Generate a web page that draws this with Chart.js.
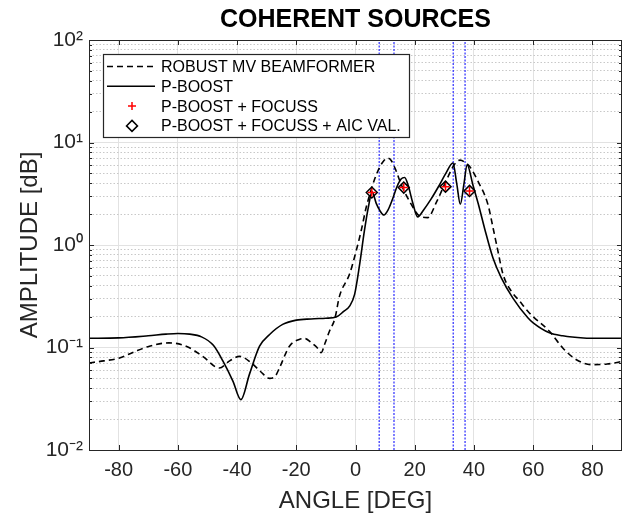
<!DOCTYPE html>
<html>
<head>
<meta charset="utf-8">
<script src="https://cdn.jsdelivr.net/npm/chart.js@4.4.0/dist/chart.umd.min.js"></script>
<style>
  html, body { margin: 0; padding: 0; background: #fff; }
  #wrap { width: 624px; height: 517px; }
</style>
</head>
<body>
<div id="wrap"><canvas id="chart" width="624" height="517"></canvas></div>
<script>
// ---- data ----
const angleRobust = [-90, -85, -79.7, -75, -69.6, -63, -57.2, -51.6, -46, -42.5, -39.2, -35.5, -32, -29, -27, -25.7, -22.3, -19, -17, -15, -13, -11.6, -10.3, -8.8, -7, -5.4, -2, 0.2, 1.9, 3.6, 5.1, 6.6, 8.1, 9.5, 10.7, 12, 13.7, 15.4, 18.2, 21.6, 24.4, 27.3, 30.6, 33.4, 35.3, 37, 38.8, 41.3, 44.7, 46.5, 48, 49.8, 52.6, 55.4, 58.2, 60, 65.5, 70, 74.6, 80, 85, 90];
const ampRobust = [0.0707, 0.074, 0.079, 0.09, 0.103, 0.111, 0.103, 0.082, 0.063, 0.074, 0.082, 0.072, 0.058, 0.05, 0.053, 0.063, 0.103, 0.12, 0.122, 0.112, 0.1, 0.089, 0.11, 0.144, 0.19, 0.317, 0.52, 0.87, 1.37, 2.32, 3.3, 4.5, 5.7, 6.6, 7.04, 6.7, 5.3, 3.92, 2.69, 1.92, 1.85, 2.6, 4.22, 6.1, 6.73, 6.4, 5.7, 4.22, 2.5, 1.45, 0.9, 0.52, 0.355, 0.284, 0.226, 0.2, 0.144, 0.099, 0.076, 0.068, 0.069, 0.073];

const angleBoost = [-90, -80, -70, -64, -60, -56, -52, -48, -44.8, -41.4, -38.7, -35.8, -32.4, -29, -24.6, -20, -15, -10, -6.5, -4, -2, -0.3, 1.4, 3, 4.3, 5.6, 7, 8.3, 9.6, 11, 12.5, 14, 15.4, 16.6, 17.8, 19.3, 21, 23, 25.5, 28, 30.5, 32.9, 34.2, 35.4, 36.6, 37.7, 39.7, 41.5, 43.6, 46.4, 49.2, 53.1, 58.2, 60, 65.5, 70, 77, 83, 90];
const ampBoost = [0.123, 0.124, 0.13, 0.135, 0.137, 0.135, 0.127, 0.105, 0.074, 0.047, 0.031, 0.055, 0.103, 0.134, 0.168, 0.185, 0.19, 0.193, 0.198, 0.225, 0.253, 0.33, 0.647, 1.37, 2.3, 3.3, 2.55, 2.15, 1.96, 2.2, 2.8, 3.7, 4.4, 4.55, 3.8, 2.6, 1.88, 2.2, 2.8, 3.7, 5.0, 6.3, 3.95, 2.5, 3.9, 6.05, 3.8, 2.5, 1.45, 0.75, 0.48, 0.305, 0.195, 0.174, 0.139, 0.13, 0.124, 0.123, 0.123];

const angleFocuss = [5.5, 16.3, 30.4, 38.5];
const ampFocuss = [3.25, 3.63, 3.71, 3.37];

const sourceAngles = [8, 13, 33, 37];

const xTicks = [-80, -60, -40, -20, 0, 20, 40, 60, 80];
const yDecades = [0.01, 0.1, 1, 10, 100];
const yTickLabels = ['10⁻²', '10⁻¹', '10⁰', '10¹', '10²'];

const legendNames = ['ROBUST MV BEAMFORMER', 'P-BOOST', 'P-BOOST + FOCUSS', 'P-BOOST + FOCUSS + AIC VAL.'];

const FONT = '"Liberation Sans", Arial, Helvetica, sans-serif';
const AXIS = '#262626';

const toXY = (xs, ys) => xs.map((x, i) => ({ x: x, y: ys[i] }));
const isDecade = v => yDecades.some(d => Math.abs(d - v) < d * 1e-6);

// minor ticks 1..9 per decade
const yAllTicks = [];
yDecades.forEach((d, i) => {
  if (i === yDecades.length - 1) { yAllTicks.push(d); return; }
  for (let k = 1; k < 10; k++) yAllTicks.push(d * k);
});

const datasets = [
  {
    label: legendNames[3], type: 'scatter', data: toXY(angleFocuss, ampFocuss),
    pointStyle: 'rectRot', pointRadius: 5.5, pointBorderColor: '#000', pointBackgroundColor: 'rgba(0,0,0,0)',
    pointBorderWidth: 1.5, showLine: false, order: 1
  },
  {
    label: legendNames[2], type: 'scatter', data: toXY(angleFocuss, ampFocuss),
    pointStyle: 'cross', pointRadius: 4, pointBorderColor: '#ff0000', pointBorderWidth: 1.5,
    showLine: false, order: 0
  },
  {
    label: legendNames[1], data: toXY(angleBoost, ampBoost), borderColor: '#000', borderWidth: 1.6,
    pointRadius: 0, cubicInterpolationMode: 'monotone', order: 2
  },
  {
    label: legendNames[0], data: toXY(angleRobust, ampRobust), borderColor: '#000', borderWidth: 1.6,
    borderDash: [6, 4], pointRadius: 0, cubicInterpolationMode: 'monotone', order: 3
  }
];

sourceAngles.forEach(a => {
  datasets.push({
    label: 'source', data: [{ x: a, y: 0.01 }, { x: a, y: 100 }], borderColor: '#2a2aff',
    borderWidth: 1.2, borderDash: [2, 1.5], pointRadius: 0, order: 5
  });
});

// frame with inward ticks, like the MATLAB box
const framePlugin = {
  id: 'frame',
  afterDatasetsDraw(chart) {
    const { ctx, chartArea: ca, scales } = chart;
    ctx.save();
    ctx.strokeStyle = AXIS;
    ctx.lineWidth = 1;
    ctx.beginPath();
    xTicks.forEach(v => {
      const px = Math.round(scales.x.getPixelForValue(v)) + 0.5;
      ctx.moveTo(px, ca.bottom); ctx.lineTo(px, ca.bottom - 5);
      ctx.moveTo(px, ca.top); ctx.lineTo(px, ca.top + 5);
    });
    yAllTicks.forEach(v => {
      const py = Math.round(scales.y.getPixelForValue(v)) + 0.5;
      const len = isDecade(v) ? 5 : 3;
      ctx.moveTo(ca.left, py); ctx.lineTo(ca.left + len, py);
      ctx.moveTo(ca.right, py); ctx.lineTo(ca.right - len, py);
    });
    ctx.stroke();
    ctx.strokeRect(Math.round(ca.left) + 0.5, Math.round(ca.top) + 0.5,
      Math.round(ca.right - ca.left) - 1, Math.round(ca.bottom - ca.top));
    ctx.restore();
  },
  afterDraw(chart) {
    const { ctx, chartArea: ca } = chart;
    const left = ca.left + 14, top = ca.top + 14, w = 306, h = 83;
    ctx.save();
    ctx.fillStyle = '#fff';
    ctx.fillRect(left, top, w, h);
    ctx.strokeStyle = AXIS;
    ctx.lineWidth = 1.2;
    ctx.strokeRect(left + 0.5, top + 0.5, w, h);
    ctx.font = '16px ' + FONT;
    ctx.textBaseline = 'middle';
    const x1 = left + 4, x2 = left + 52, xm = left + 29, xt = left + 58;
    legendNames.forEach((name, i) => {
      const y = top + 12.5 + i * 19.8;
      ctx.strokeStyle = '#000';
      ctx.lineWidth = 1.6;
      ctx.beginPath();
      if (i === 0) {
        ctx.setLineDash([6, 4]);
        ctx.moveTo(x1, y); ctx.lineTo(x2, y);
      } else if (i === 1) {
        ctx.setLineDash([]);
        ctx.moveTo(x1, y); ctx.lineTo(x2, y);
      } else if (i === 2) {
        ctx.setLineDash([]);
        ctx.strokeStyle = '#ff0000';
        ctx.lineWidth = 1.5;
        ctx.moveTo(xm - 4, y); ctx.lineTo(xm + 4, y);
        ctx.moveTo(xm, y - 4); ctx.lineTo(xm, y + 4);
      } else {
        ctx.setLineDash([]);
        ctx.lineWidth = 1.5;
        ctx.moveTo(xm, y - 5.5); ctx.lineTo(xm + 5.5, y);
        ctx.lineTo(xm, y + 5.5); ctx.lineTo(xm - 5.5, y); ctx.closePath();
      }
      ctx.stroke();
      ctx.fillStyle = '#000';
      ctx.fillText(name, xt, y + 1);
    });
    ctx.restore();
  }
};

const ctx = document.getElementById('chart').getContext('2d');
new Chart(ctx, {
  type: 'line',
  data: { datasets: datasets },
  options: {
    responsive: false,
    animation: false,
    devicePixelRatio: 1,
    layout: { autoPadding: false, padding: { left: 0, right: 2, top: 0, bottom: 0 } },
    plugins: {
      legend: { display: false },
      tooltip: { enabled: false },
      title: {
        display: true, fullSize: false, text: 'COHERENT SOURCES', color: '#000',
        font: { family: FONT, size: 25, weight: 'bold' },
        padding: { top: 5, bottom: 5 }
      }
    },
    scales: {
      x: {
        type: 'linear', min: -90, max: 90,
        afterBuildTicks: s => { s.ticks = xTicks.map(v => ({ value: v })); },
        afterFit: s => { s.height = 67; s.paddingLeft = 0; s.paddingRight = 0; },
        ticks: { color: AXIS, font: { family: FONT, size: 20 }, padding: 8, maxRotation: 0, autoSkip: false },
        grid: { color: '#e2e2e2', lineWidth: 1, drawTicks: false },
        border: { display: false },
        title: { display: true, text: 'ANGLE [DEG]', color: AXIS, font: { family: FONT, size: 24 }, padding: { top: 0, bottom: 1 } }
      },
      y: {
        type: 'logarithmic', min: 0.01, max: 100,
        afterBuildTicks: s => { s.ticks = yAllTicks.map(v => ({ value: v })); },
        afterFit: s => { s.width = 89; },
        ticks: {
          color: AXIS, font: { family: FONT, size: 21 }, padding: 6, autoSkip: false,
          callback: v => { const i = yDecades.findIndex(d => Math.abs(d - v) < d * 1e-6); return i >= 0 ? yTickLabels[i] : ''; }
        },
        grid: {
          drawTicks: false, lineWidth: 1,
          color: c => (c.tick && isDecade(c.tick.value)) ? '#e2e2e2' : '#c8c8c8'
        },
        border: {
          display: false,
          dash: c => (c.tick && !isDecade(c.tick.value)) ? [1.5, 2] : []
        },
        title: { display: true, text: 'AMPLITUDE [dB]', color: AXIS, font: { family: FONT, size: 24 }, padding: { top: 16, bottom: 0 } }
      }
    }
  },
  plugins: [framePlugin]
});
</script>
</body>
</html>
